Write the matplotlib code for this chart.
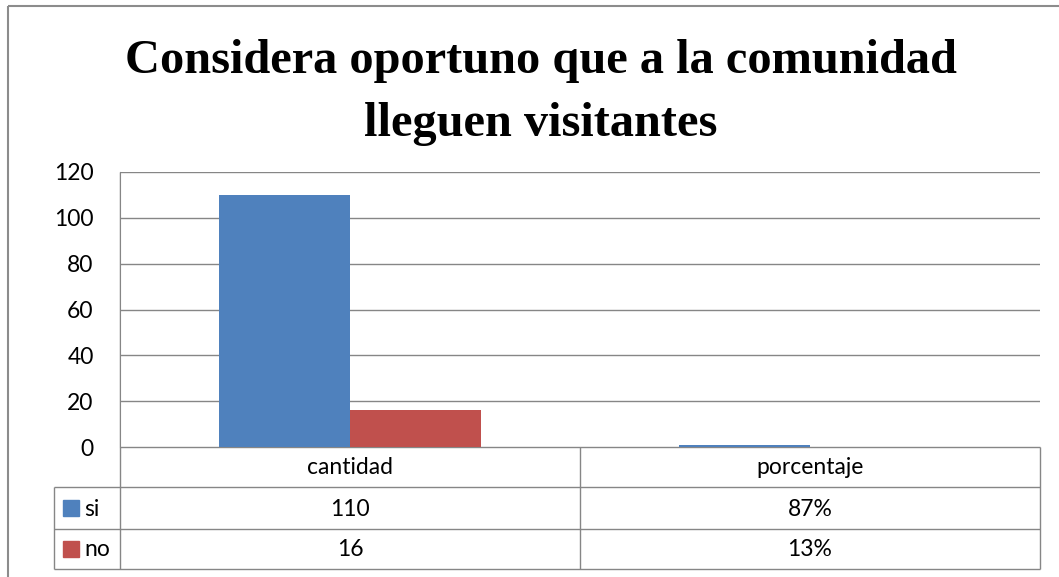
import matplotlib
matplotlib.use("Agg")
import matplotlib.pyplot as plt
import numpy as np

categories = ["cantidad", "porcentaje"]
series = ["si", "no"]
si_values = [110, 0.87]
no_values = [16, 0.13]
si_labels = ["110", "87%"]
no_labels = ["16", "13%"]
yticks = [0, 20, 40, 60, 80, 100, 120]
colors = ["#4F81BD", "#C0504D"]
grid_col = "#868686"

W, H = 1059, 577
fig = plt.figure(figsize=(W / 100, H / 100), dpi=100)
fig.patch.set_facecolor("white")

# pixel layout
px_left, px_right, px_top, px_bottom = 120, 1040, 172, 447
ax = fig.add_axes([px_left / W, 1 - px_bottom / H, (px_right - px_left) / W, (px_bottom - px_top) / H])

x = np.arange(len(categories))
bw = 1 / 3.5
ax.bar(x - bw / 2, si_values, bw, color=colors[0], zorder=3)
ax.bar(x + bw / 2, no_values, bw, color=colors[1], zorder=3)
ax.set_xlim(-0.5, len(categories) - 0.5)
ax.set_ylim(0, 120)
ax.set_yticks(yticks)
ax.set_xticks([])
ax.yaxis.grid(True, color=grid_col, linewidth=1)
ax.set_axisbelow(True)
for s in ["top", "right", "bottom"]:
    ax.spines[s].set_visible(False)
ax.spines["left"].set_color(grid_col)
ax.tick_params(axis="y", length=0, pad=19, labelsize=16.5)
for lab in ax.get_yticklabels():
    lab.set_fontfamily("Lato")

# overlay in pixel coordinates for frame, title and data table
ov = fig.add_axes([0, 0, 1, 1], zorder=-1)
ov.set_xlim(0, W)
ov.set_ylim(H, 0)
ov.axis("off")
ov.patch.set_alpha(0)

def line(x0, y0, x1, y1, c=grid_col, lw=1):
    ov.plot([x0, x1], [y0, y1], color=c, linewidth=lw, solid_capstyle="butt")

# outer chart frame
line(8, 6, 1059, 6, "#8c8c8c", 1.5)
line(8, 6, 8, 577, "#8c8c8c", 1.5)

title_lines = ["Considera oportuno que a la comunidad", "lleguen visitantes"]
for t, yb in zip(title_lines, [73, 136]):
    ov.text(541, yb, t, ha="center", va="baseline", fontsize=34.8,
            fontweight="bold", family="Liberation Serif")

# table grid
row_y = [447, 487, 529, 569]
line(px_left, row_y[0], px_right, row_y[0])
for y in row_y[1:]:
    line(54, y, px_right, y)
line(px_left, px_top, px_left, row_y[-1])
line(54, row_y[1], 54, row_y[-1])
mid = px_left + (px_right - px_left) / 2
line(mid, row_y[0], mid, row_y[-1])
line(px_right, row_y[0], px_right, row_y[-1])

cw = (px_right - px_left) / len(categories)
for i, cat in enumerate(categories):
    cx = px_left + cw * (i + 0.5)
    ov.text(cx, (row_y[0] + row_y[1]) / 2 + 1, cat, ha="center", va="center",
            fontsize=16.5, family="Lato")
    ov.text(cx, (row_y[1] + row_y[2]) / 2 + 1, si_labels[i], ha="center", va="center",
            fontsize=16.5, family="Lato")
    ov.text(cx, (row_y[2] + row_y[3]) / 2 + 1, no_labels[i], ha="center", va="center",
            fontsize=16.5, family="Lato")

for j, name in enumerate(series):
    yc = (row_y[j + 1] + row_y[j + 2]) / 2
    ov.add_patch(plt.Rectangle((63, yc - 8), 16, 16, color=colors[j]))
    ov.text(84, yc + 1, name, ha="left", va="center", fontsize=16.5, family="Lato")

fig.savefig("out.png", dpi=100)
